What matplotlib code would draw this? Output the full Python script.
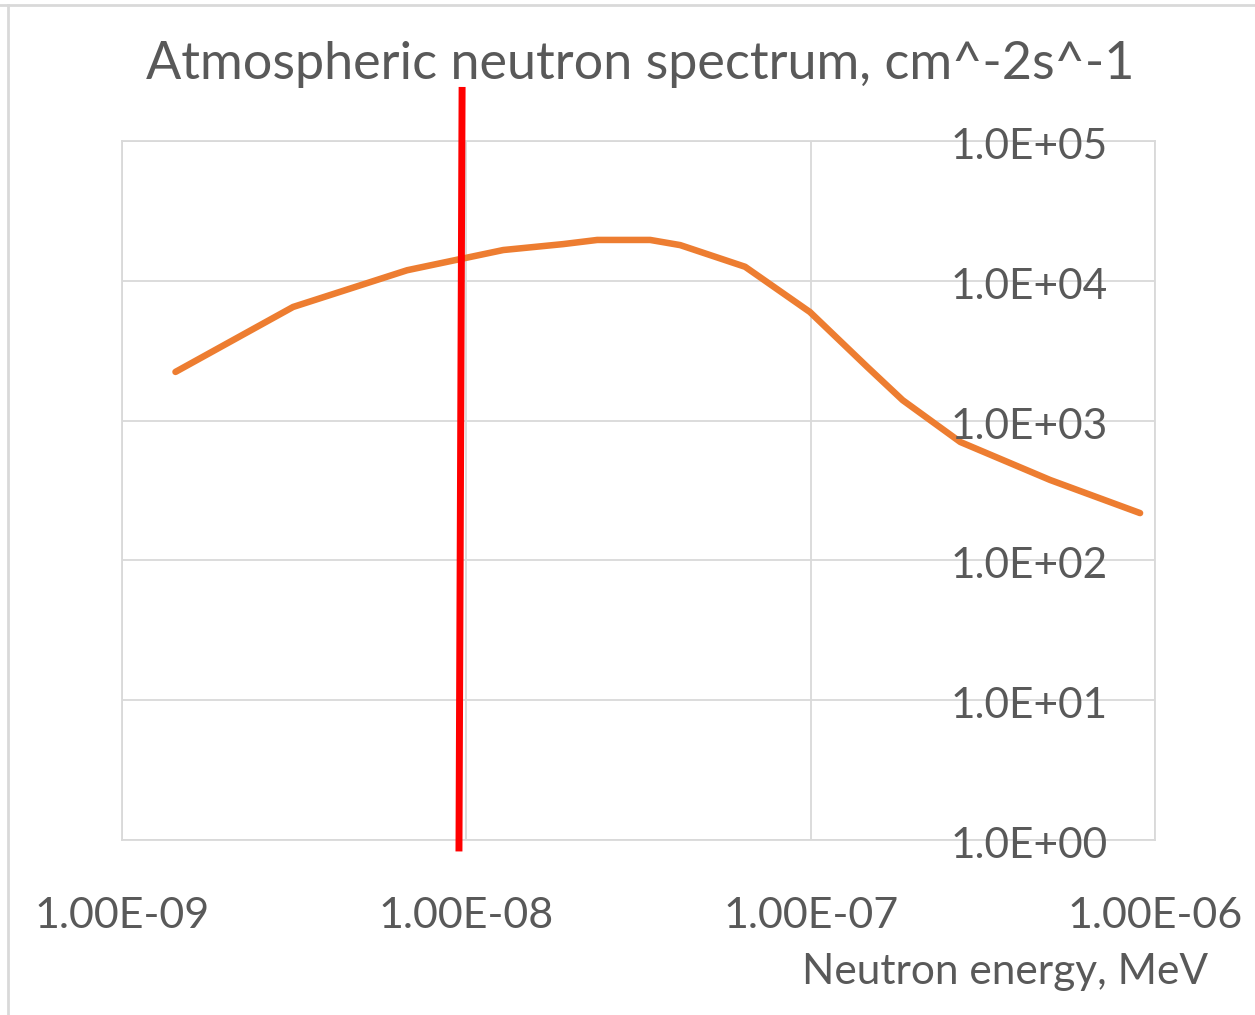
import matplotlib
matplotlib.use("Agg")
import matplotlib.pyplot as plt
from matplotlib.lines import Line2D
from matplotlib.ticker import FixedLocator, NullLocator
import matplotlib.transforms as mtransforms

# ---- data ----
energy_mev = [1.43e-9, 3.14e-9, 6.73e-9, 1.28e-8, 1.91e-8, 2.40e-8, 3.42e-8,
              4.18e-8, 6.45e-8, 9.95e-8, 1.46e-7, 1.85e-7, 2.72e-7, 4.96e-7, 9.05e-7]
flux = [2230, 6500, 11900, 16600, 18300, 19600, 19600,
        18000, 12600, 5980, 2420, 1400, 703, 376, 218]

x_ticks = [1e-9, 1e-8, 1e-7, 1e-6]
x_tick_labels = ["1.00E-09", "1.00E-08", "1.00E-07", "1.00E-06"]
y_ticks = [1e0, 1e1, 1e2, 1e3, 1e4, 1e5]
y_tick_labels = ["1.0E+00", "1.0E+01", "1.0E+02", "1.0E+03", "1.0E+04", "1.0E+05"]

marker_x = [9.72e-9, 9.52e-9]
marker_y = [2.3e5, 0.877]

title = "Atmospheric neutron spectrum, cm^-2s^-1"
xlabel = "Neutron energy, MeV"

plt.rcParams['font.family'] = ['Lato', 'DejaVu Sans']
TXT = '#595959'
GRID = '#d9d9d9'

fig = plt.figure(figsize=(12.55, 10.15), dpi=100)
ax = fig.add_axes([122/1255, 1 - 840/1015, (1155-122)/1255, (840-141)/1015])

ax.set_xscale('log')
ax.set_yscale('log')
ax.set_xlim(1e-9, 1e-6)
ax.set_ylim(1e0, 1e5)

ax.plot(energy_mev, flux, color='#ED7D31', lw=4.7, solid_capstyle='round',
        solid_joinstyle='round', zorder=3)

ax.xaxis.set_major_locator(FixedLocator(x_ticks))
ax.xaxis.set_minor_locator(NullLocator())
ax.set_xticklabels(x_tick_labels)
ax.yaxis.set_major_locator(FixedLocator(y_ticks))
ax.yaxis.set_minor_locator(NullLocator())
ax.set_yticklabels([])

ax.grid(True, color=GRID, lw=1.3, zorder=0)
ax.set_axisbelow(True)
for s in ax.spines.values():
    s.set_color(GRID)
    s.set_linewidth(1.3)

ax.tick_params(axis='x', length=0, pad=41, labelsize=31, labelcolor=TXT)
ax.tick_params(axis='y', length=0)

# y labels drawn inside the plot, right-aligned, slightly below each gridline
ytrans = ax.get_yaxis_transform() + mtransforms.ScaledTranslation(0, -6/100, fig.dpi_scale_trans)
for v, lab in zip(y_ticks, y_tick_labels):
    ax.text((1108-122)/1033, v, lab, transform=ytrans, ha='right', va='center',
            fontsize=30.5, color=TXT, zorder=4, clip_on=False)

ax.plot(marker_x, marker_y, color='#ff0000', lw=5, clip_on=False, zorder=5)

fig.text(640/1255, 1 - 65/1015, title, ha='center', va='center',
         fontsize=37.5, color=TXT)
fig.text(1208/1255, 1 - 972/1015, xlabel, ha='right', va='center',
         fontsize=30.5, color=TXT)

fig.add_artist(Line2D([0, 1], [1 - 5/1015, 1 - 5/1015], color='#d9d9d9', lw=2,
                      transform=fig.transFigure))
fig.add_artist(Line2D([8/1255, 8/1255], [0, 1 - 5/1015], color='#d9d9d9', lw=2,
                      transform=fig.transFigure))

fig.savefig('out.png', dpi=100, facecolor='white')
